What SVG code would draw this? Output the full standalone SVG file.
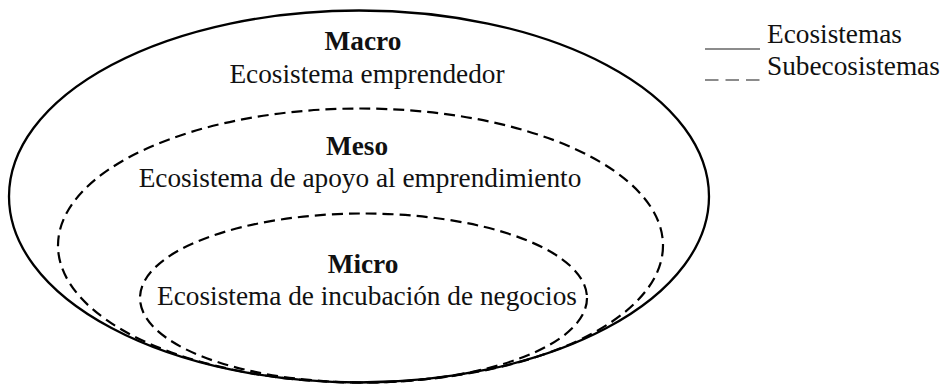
<svg xmlns="http://www.w3.org/2000/svg" width="941" height="385" viewBox="0 0 941 385">
<style>
.solid{fill:none;stroke:#000;stroke-width:2.3}
.dash{fill:none;stroke:#000;stroke-width:2.2;stroke-dasharray:11 6}
.t{font-family:"Liberation Serif","Times New Roman",serif;font-size:27.3px;fill:#111;text-anchor:middle}
.b{font-weight:bold}
.lg{font-family:"Liberation Serif","Times New Roman",serif;font-size:27.3px;fill:#111}
.ls{stroke:#666;stroke-width:1.6;fill:none}
</style>
<rect width="941" height="385" fill="#fff"/>
<g id="macro">
<ellipse class="solid" cx="359" cy="196.5" rx="350" ry="186"/>
<text class="t b" x="363" y="50">Macro</text>
<text class="t" x="367" y="83">Ecosistema emprendedor</text>
</g>
<g id="meso">
<ellipse class="dash" cx="360.5" cy="245.5" rx="302.5" ry="137"/>
<text class="t b" x="357" y="155">Meso</text>
<text class="t" x="360" y="187">Ecosistema de apoyo al emprendimiento</text>
</g>
<g id="micro">
<ellipse class="dash" cx="363.5" cy="298" rx="223.5" ry="84.5"/>
<text class="t b" x="363" y="273">Micro</text>
<text class="t" x="367" y="305">Ecosistema de incubación de negocios</text>
</g>
<g id="legend">
<line class="ls" x1="705" y1="49" x2="760" y2="49"/>
<line class="ls" x1="705" y1="80" x2="760" y2="80" stroke-dasharray="13.5 7"/>
<text class="lg" x="767" y="43">Ecosistemas</text>
<text class="lg" x="767" y="75">Subecosistemas</text>
</g>
<g id="connectors"></g>
</svg>
